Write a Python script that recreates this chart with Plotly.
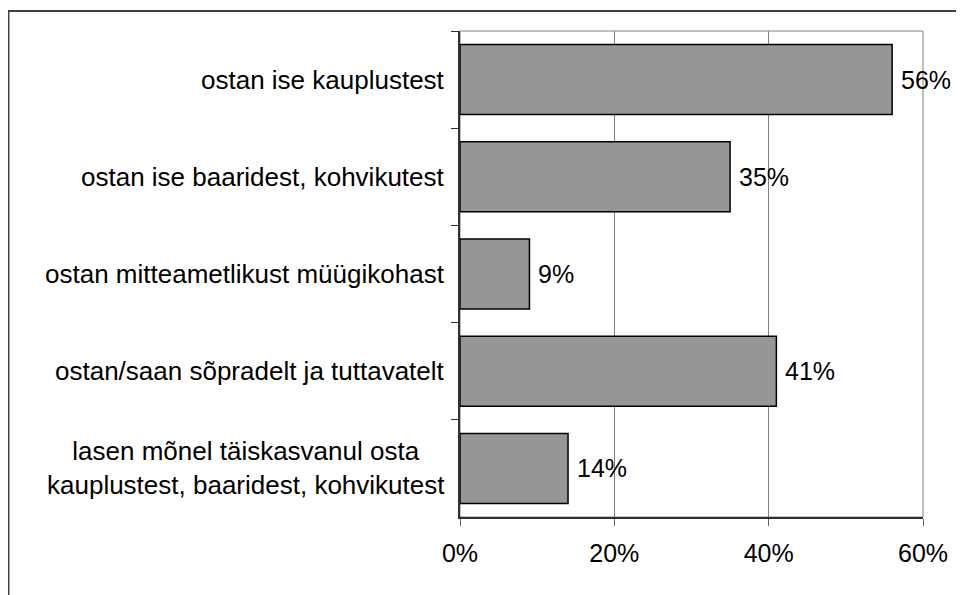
import plotly.graph_objects as go

categories = [
    "ostan ise kauplustest",
    "ostan ise baaridest, kohvikutest",
    "ostan mitteametlikust müügikohast",
    "ostan/saan sõpradelt ja tuttavatelt",
    "lasen mõnel täiskasvanul osta<br>kauplustest, baaridest, kohvikutest",
]
values = [56, 35, 9, 41, 14]
value_labels = ["56%", "35%", "9%", "41%", "14%"]
x_ticks = [0, 20, 40, 60]
x_tick_labels = ["0%", "20%", "40%", "60%"]

FONT = "Liberation Sans, Arial, sans-serif"
# page body has an 8px margin, so the figure is drawn 8px in from the window edge
OFF = 8
W, H = 964 - OFF, 595 - OFF
L, R, T, B = 460 - OFF, 41, 31 - OFF, 78
pw, ph = W - L - R, H - T - B


def px_x(px):
    return (px - OFF - L) / pw


def px_y(py):
    return (H - B - (py - OFF)) / ph


fig = go.Figure(go.Bar(
    x=values,
    y=categories,
    orientation="h",
    marker=dict(color="#969696", line=dict(color="black", width=1.5)),
    hoverinfo="skip",
))

# category labels (centered multi-line, right-anchored)
for cat in categories:
    fig.add_annotation(
        x=0, xref="paper", y=cat, yref="y",
        text=cat, showarrow=False, xanchor="right", yanchor="middle",
        align="center", xshift=-13,
        font=dict(family=FONT, size=26, color="black"),
    )

# value labels
for cat, v, lab in zip(categories, values, value_labels):
    fig.add_annotation(
        x=v, y=cat, text=lab, showarrow=False,
        xanchor="left", yanchor="middle", xshift=7,
        font=dict(family=FONT, size=25, color="black"),
    )

# outer chart border and plot-area frame
fig.add_shape(type="rect", xref="paper", yref="paper",
              x0=px_x(8.5), x1=px_x(980), y0=px_y(11), y1=px_y(620),
              line=dict(color="#404040", width=2), layer="below")
fig.add_shape(type="rect", xref="paper", yref="paper",
              x0=0, x1=1, y0=0, y1=1,
              line=dict(color="#808080", width=1), layer="below")

fig.update_layout(
    width=W, height=H,
    margin=dict(l=L, r=R, t=T, b=B),
    paper_bgcolor="white", plot_bgcolor="white",
    bargap=0.28,
    showlegend=False,
    font=dict(family=FONT, size=25, color="black"),
)
fig.update_xaxes(
    range=[0, 60], tickvals=x_ticks, ticktext=x_tick_labels,
    showgrid=True, gridcolor="#808080", gridwidth=1,
    showline=True, linecolor="#303030", linewidth=1.5,
    ticks="outside", ticklen=7, tickcolor="#606060",
    ticklabelstandoff=6,
    zeroline=False, fixedrange=True,
    tickfont=dict(family=FONT, size=25, color="black"),
)
fig.update_yaxes(
    autorange="reversed", showticklabels=False,
    showline=True, linecolor="#303030", linewidth=1.5,
    ticks="outside", ticklen=7, tickcolor="#303030", tickson="boundaries",
    showgrid=False, fixedrange=True,
)

fig.write_html("out.html")
